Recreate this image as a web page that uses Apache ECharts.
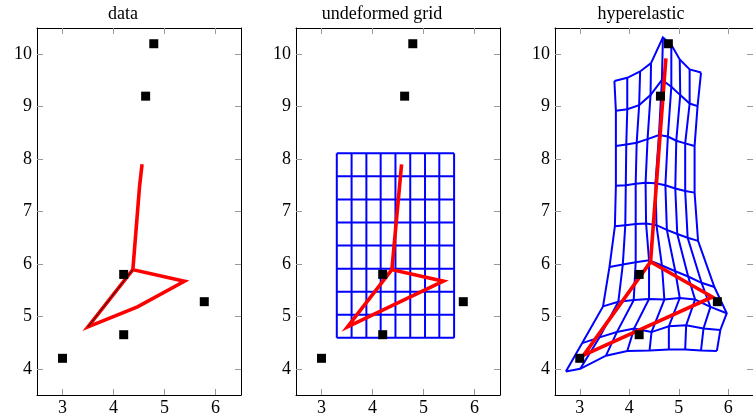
<!DOCTYPE html>
<html>
<head>
<meta charset="utf-8">
<script src="https://cdn.jsdelivr.net/npm/echarts@6/dist/echarts.min.js"></script>
<style>
  html, body { margin: 0; padding: 0; background: #fff; }
  #chart { width: 753px; height: 419px; }
</style>
</head>
<body>
<div id="chart"></div>
<script>
// tick labels and titles
const xTicks = [3, 4, 5, 6]
const yTicks = [4, 5, 6, 7, 8, 9, 10]
const titles = ['data', 'undeformed grid', 'hyperelastic']

// landmark points (black squares)
const landmarks = [[3.0, 4.2], [4.2, 4.65], [4.2, 5.8], [4.63, 9.2], [4.79, 10.2], [5.78, 5.28]]

// red skeleton per panel
const skeletonData = [[4.56, 7.9], [4.51, 7.47], [4.38, 5.89], [5.39, 5.67], [4.47, 5.18], [3.5, 4.8], [4.38, 5.89]]
const blackSegment = [[3.5, 4.8], [4.38, 5.89]]
const skeletonGrid = [[4.57, 7.9], [4.38, 5.89], [5.39, 5.67], [3.51, 4.8], [4.38, 5.89]]
const skeletonHyper = [[4.74, 9.92], [4.43, 6.04], [5.68, 5.37], [3.08, 4.26], [4.43, 6.04]]

// undeformed grid line positions
const gridX = [3.3, 3.59, 3.88, 4.16, 4.45, 4.74, 5.03, 5.31, 5.6]
const gridY = [4.59, 5.03, 5.47, 5.91, 6.35, 6.79, 7.23, 7.67, 8.11]

// deformed mesh nodes, rows from bottom to top, left to right
const meshRow0 = [[2.72, 3.95], [3.01, 4.0], [3.53, 4.25], [3.96, 4.34], [4.41, 4.35], [4.8, 4.37], [5.13, 4.37], [5.45, 4.35], [5.77, 4.34]]
const meshRow1 = [[3.05, 4.49], [3.4, 4.6], [3.75, 4.7], [4.1, 4.77], [4.45, 4.7], [4.8, 4.81], [5.15, 4.83], [5.5, 4.77], [5.84, 4.74]]
const meshRow2 = [[3.47, 5.19], [3.78, 5.28], [4.09, 5.31], [4.4, 5.33], [4.71, 5.32], [5.02, 5.35], [5.33, 5.32], [5.64, 5.18], [5.97, 5.06]]
const meshRow3 = [[3.6, 5.94], [3.87, 5.99], [4.13, 6.03], [4.4, 6.07], [4.66, 5.97], [4.93, 5.86], [5.19, 5.76], [5.46, 5.64], [5.72, 5.56]]
const meshRow4 = [[3.71, 6.72], [3.92, 6.74], [4.13, 6.76], [4.34, 6.77], [4.55, 6.74], [4.76, 6.65], [4.97, 6.57], [5.18, 6.5], [5.39, 6.44]]
const meshRow5 = [[3.73, 7.49], [3.93, 7.5], [4.13, 7.53], [4.33, 7.55], [4.53, 7.54], [4.73, 7.5], [4.93, 7.44], [5.13, 7.39], [5.32, 7.36]]
const meshRow6 = [[3.73, 8.25], [3.94, 8.28], [4.15, 8.31], [4.37, 8.38], [4.6, 8.46], [4.78, 8.43], [4.95, 8.35], [5.13, 8.3], [5.32, 8.25]]
const meshRow7 = [[3.73, 8.92], [3.96, 8.95], [4.2, 9.03], [4.43, 9.22], [4.66, 9.51], [4.85, 9.38], [5.03, 9.22], [5.22, 9.06], [5.38, 9.01]]
const meshRow8 = [[3.7, 9.49], [3.96, 9.55], [4.22, 9.67], [4.44, 9.83], [4.68, 10.32], [4.85, 10.18], [5.02, 9.9], [5.22, 9.71], [5.45, 9.65]]

const meshRows = [meshRow0, meshRow1, meshRow2, meshRow3, meshRow4, meshRow5, meshRow6, meshRow7, meshRow8]
const meshCols = meshRow0.map((_, c) => meshRows.map(row => row[c]))

const font = 'Liberation Serif'
const panelLeft = [37, 296, 555]
const titleCenter = [123, 382, 641]

const chart = echarts.init(document.getElementById('chart'))

const tickStyle = { show: true, inside: true, length: 6, lineStyle: { color: '#999', width: 1 } }
const lineAxis = { show: true, onZero: false, lineStyle: { color: '#000', width: 1 } }
const labelStyle = { color: '#000', fontFamily: font, fontSize: 18 }

const xAxis = []
const yAxis = []
panelLeft.forEach((_, i) => {
  xAxis.push({
    gridIndex: i, type: 'value', position: 'bottom', min: 2.5, max: 6.5,
    axisLine: lineAxis, splitLine: { show: false },
    axisTick: { ...tickStyle, customValues: xTicks },
    axisLabel: { ...labelStyle, margin: 4, customValues: xTicks }
  })
  xAxis.push({
    gridIndex: i, type: 'value', position: 'top', min: 2.5, max: 6.5,
    axisLine: lineAxis, splitLine: { show: false },
    axisTick: { ...tickStyle, customValues: xTicks },
    axisLabel: { show: false }
  })
  yAxis.push({
    gridIndex: i, type: 'value', position: 'left', min: 3.5, max: 10.5,
    axisLine: lineAxis, splitLine: { show: false },
    axisTick: { ...tickStyle, customValues: yTicks },
    axisLabel: { ...labelStyle, margin: 5, customValues: yTicks }
  })
  yAxis.push({
    gridIndex: i, type: 'value', position: 'right', min: 3.5, max: 10.5,
    axisLine: lineAxis, splitLine: { show: false },
    axisTick: { ...tickStyle, customValues: yTicks },
    axisLabel: { show: false }
  })
})

const makeLine = (points, panel, color, width, z) => ({
  type: 'line',
  data: points,
  xAxisIndex: panel * 2,
  yAxisIndex: panel * 2,
  symbol: 'none',
  showSymbol: false,
  silent: true,
  z: z,
  lineStyle: { color: color, width: width, join: 'miter' }
})

const makeSquares = panel => ({
  type: 'scatter',
  data: landmarks,
  xAxisIndex: panel * 2,
  yAxisIndex: panel * 2,
  symbol: 'rect',
  symbolSize: 9,
  silent: true,
  z: 10,
  itemStyle: { color: '#000', opacity: 1 }
})

const series = []
// panel 1: data
series.push(makeLine(skeletonData, 0, '#ff0000', 3.6, 3))
series.push(makeLine(blackSegment, 0, '#000', 1, 4))
series.push(makeSquares(0))
// panel 2: undeformed grid
gridX.forEach(x => series.push(makeLine([[x, gridY[0]], [x, gridY[gridY.length - 1]]], 1, '#0000ff', 2, 2)))
gridY.forEach(y => series.push(makeLine([[gridX[0], y], [gridX[gridX.length - 1], y]], 1, '#0000ff', 2, 2)))
series.push(makeLine(skeletonGrid, 1, '#ff0000', 3.6, 3))
series.push(makeSquares(1))
// panel 3: hyperelastic
meshRows.forEach(row => series.push(makeLine(row, 2, '#0000ff', 2, 2)))
meshCols.forEach(col => series.push(makeLine(col, 2, '#0000ff', 2, 2)))
series.push(makeLine(skeletonHyper, 2, '#ff0000', 3.6, 3))
series.push(makeSquares(2))

const option = {
  animation: false,
  backgroundColor: '#fff',
  title: titles.map((t, i) => ({
    text: t,
    left: titleCenter[i],
    top: 5,
    textAlign: 'center',
    padding: 0,
    textStyle: { color: '#000', fontFamily: font, fontSize: 18, fontWeight: 'normal' }
  })),
  grid: panelLeft.map(left => ({ left: left, top: 28, width: 204, height: 367 })),
  xAxis: xAxis,
  yAxis: yAxis,
  series: series
}

chart.setOption(option)
</script>
</body>
</html>
